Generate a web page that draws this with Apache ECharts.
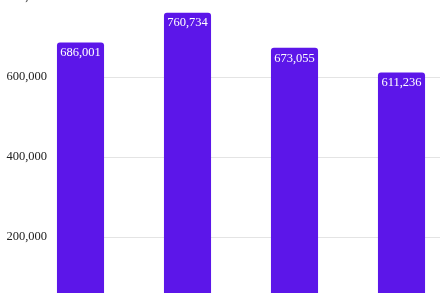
<!DOCTYPE html>
<html><head><meta charset="utf-8">
<script src="https://cdn.jsdelivr.net/npm/echarts@6/dist/echarts.min.js"></script>
<style>html,body{margin:0;padding:0;background:#fff;overflow:hidden;width:440px;height:293px;position:relative}#c{position:absolute;left:0;top:-20px;width:460px;height:340px}</style>
</head><body><div id="c"></div>
<script>
const categories = ['A', 'B', 'C', 'D'];
const values = [686001, 760734, 673055, 611236];
const yTicks = [0, 200000, 400000, 600000, 800000];

const chart = echarts.init(document.getElementById('c'), null, {renderer: 'canvas'});
chart.setOption({
  animation: false,
  grid: {left: 27, right: 5, top: 17, bottom: 3, containLabel: false, outerBoundsMode: 'none'},
  xAxis: {
    type: 'category', data: categories,
    axisLine: {show: false}, axisTick: {show: false}, axisLabel: {show: false}
  },
  yAxis: {
    type: 'value', min: yTicks[0], max: yTicks[yTicks.length - 1], interval: 200000,
    axisLine: {show: false}, axisTick: {show: false},
    splitLine: {lineStyle: {color: '#e4e4e4', width: 1}},
    axisLabel: {
      margin: -30,
      fontFamily: '"Liberation Serif", "Times New Roman", serif',
      fontSize: 12.5, color: '#222',
      backgroundColor: '#fff', padding: [3, 10, 3, 20],
      formatter: v => v.toLocaleString('en-US')
    }
  },
  series: [{
    type: 'bar', data: values, barWidth: '44%',
    itemStyle: {color: '#5C16E9', borderRadius: [3, 3, 0, 0]},
    label: {
      show: true, position: 'insideTop', distance: 4, color: '#fff',
      fontFamily: '"Liberation Serif", "Times New Roman", serif', fontSize: 12.5,
      formatter: p => p.value.toLocaleString('en-US')
    }
  }]
});
</script></body></html>
